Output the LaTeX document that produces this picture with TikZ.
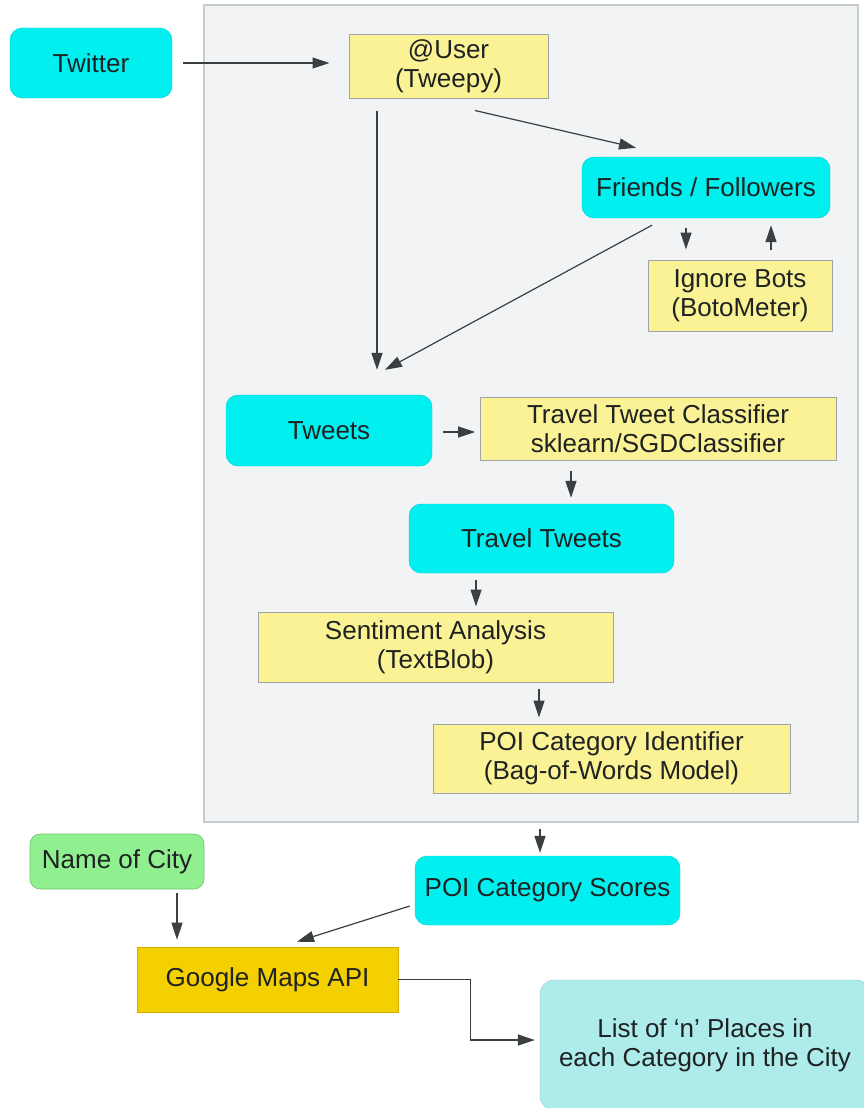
\documentclass[tikz,border=0pt]{standalone}
\usepackage{fontspec}
\setsansfont{Liberation Sans}
\usetikzlibrary{arrows.meta,calc}
\definecolor{FlowInk}{HTML}{1E2222}
\definecolor{FlowLine}{HTML}{3A3F42}
\definecolor{FlowCyan}{HTML}{00F0F0}
\definecolor{FlowPale}{HTML}{AEEBEB}
\definecolor{FlowYellow}{HTML}{FAF294}
\definecolor{FlowGold}{HTML}{F5D000}
\definecolor{FlowGreen}{HTML}{90F090}
\definecolor{FlowPanel}{HTML}{F1F3F4}
\definecolor{FlowEdge}{HTML}{C4CCD0}
\tikzset{
  every node/.style={font=\sffamily\fontsize{26}{29}\selectfont, text=FlowInk, align=center, inner sep=0pt},
  source/.style={fill=FlowCyan, draw=FlowCyan!85!black, line width=0.4pt, rounded corners=12pt},
  result/.style={fill=FlowPale, draw=FlowPale!85!black, line width=0.4pt, rounded corners=14pt},
  tool/.style={fill=FlowYellow, draw=FlowEdge!80!black, line width=1pt},
  api/.style={fill=FlowGold, draw=FlowGold!85!black, line width=0.6pt},
  input/.style={fill=FlowGreen, draw=FlowGreen!80!black, line width=0.6pt, rounded corners=10pt},
  link/.style={-{Triangle[length=17pt,width=11pt]}, draw=FlowLine, line width=1.2pt},
}
\begin{document}
\begin{tikzpicture}[x=1pt,y=-1pt]
  \useasboundingbox (0,0) rectangle (863,1108);
  \fill[white] (0,0) rectangle (863,1108);
  % Pipeline panel
  \draw[fill=FlowPanel, draw=FlowEdge, line width=1.5pt] (204,5) rectangle (858,822);
  % Nodes, sizes in px of the source figure
  \node[source, minimum width=162, minimum height=70] (twitter) at (91,63) {Twitter};
  \node[tool, minimum width=199, minimum height=63] (user) at (448.5,66.5) {@User\\(Tweepy)};
  \node[source, minimum width=248, minimum height=61] (friends) at (706,187.5) {Friends / Followers};
  \node[tool, minimum width=184, minimum height=71] (bots) at (740,295.5) {Ignore Bots\\(BotoMeter)};
  \node[source, minimum width=206, minimum height=71] (tweets) at (329,430.5) {Tweets};
  \node[tool, minimum width=356, minimum height=63] (classifier) at (658,428.5) {Travel Tweet Classifier\\sklearn/SGDClassifier};
  \node[source, minimum width=265, minimum height=69] (travel) at (541.5,538.5) {Travel Tweets};
  \node[tool, minimum width=355, minimum height=70] (sentiment) at (435.5,647) {Sentiment Analysis\\(TextBlob)};
  \node[tool, minimum width=357, minimum height=69] (poiid) at (611.5,758.5) {POI Category Identifier\\(Bag-of-Words Model)};
  \node[input, minimum width=174, minimum height=55] (city) at (117,861.5) {Name of City};
  \node[source, minimum width=265, minimum height=69] (scores) at (547.5,890.5) {POI Category Scores};
  \node[api, minimum width=261, minimum height=65] (gmaps) at (267.5,979.5) {Google Maps API};
  \node[result, minimum width=330, minimum height=130] (places) at (705,1045) {List of `n' Places in\\each Category in the City};
  % Connectors
  \draw[link] ($(twitter.east)+(11,0)$) -- ($(twitter.east -| user.west)+(-19,0)$);
  \draw[link] ($(user.south)+(-71.5,12)$) -- ($(tweets.north)+(48,-25)$);
  \draw[link] ($(user.south)+(26.5,12)$) -- ($(friends.north)+(-70,-9)$);
  \draw[link] ($(friends.south)+(-54,7)$) -- ($(tweets.north)+(56,-25)$);
  \draw[link] ($(friends.south)+(-20,10)$) -- ($(bots.north)+(-54,-10)$);
  \draw[link] ($(bots.north)+(31,-10)$) -- ($(friends.south)+(65,7)$);
  \draw[link] ($(tweets.east)+(11,1.5)$) -- ($(tweets.east)+(43,1.5)$);
  \draw[link] ($(classifier.south)+(-87,10)$) -- ($(travel.north)+(29.5,-6)$);
  \draw[link] ($(travel.south)+(-65.5,7)$) -- ($(sentiment.north)+(40.5,-5)$);
  \draw[link] ($(sentiment.south)+(103.5,6)$) -- ($(poiid.north)+(-72.5,-6)$);
  \draw[link] ($(poiid.south)+(-71.5,35)$) -- ($(scores.north)+(-7.5,-3)$);
  \draw[link] ($(city.south)+(60,4)$) -- ($(gmaps.north)+(-90.5,-7)$);
  \draw[link] ($(scores.west)+(-5,15.5)$) -- ($(gmaps.north)+(29.5,-5)$);
  \draw[link] (gmaps.east) -- ++(72,0) |- ($(places.west)+(-5,-5)$);
\end{tikzpicture}
\end{document}
